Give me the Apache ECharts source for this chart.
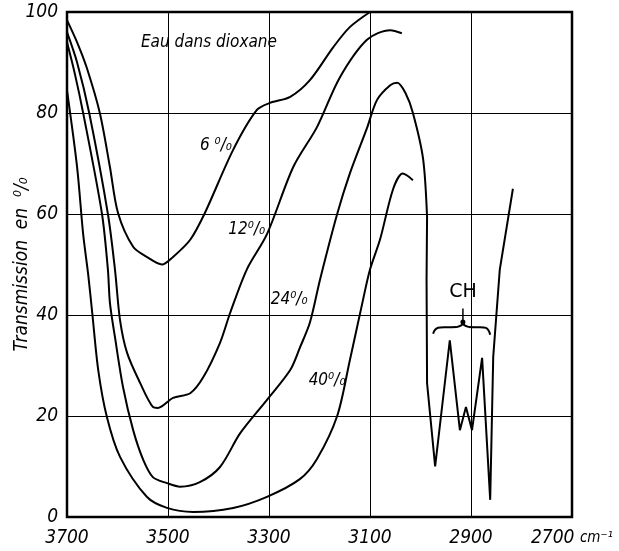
<!DOCTYPE html>
<html>
<head>
<meta charset="utf-8">
<script src="https://cdn.jsdelivr.net/npm/echarts@6/dist/echarts.min.js"></script>
<style>
  html, body { margin: 0; background: #fff; }
  #chart { width: 619px; height: 551px; }
</style>
</head>
<body>
<div id="chart"></div>
<script>
// valeurs : nombre d'onde (cm-1) / transmission (%)
var wn6 = [3700, 3680, 3661, 3635, 3615, 3599, 3569, 3542, 3512, 3490, 3456, 3427, 3371, 3324, 3298, 3258, 3219, 3173, 3140, 3100];
var tr6 = [98.4, 94, 89, 80, 69.3, 60.2, 53.5, 51.5, 50, 51.5, 54.9, 60.2, 72.7, 80.6, 82, 83.2, 86.5, 93, 97, 100];

var wn12 = [3700, 3680, 3656, 3619, 3605, 3595, 3581, 3555, 3530, 3520, 3490, 3456, 3430, 3397, 3377, 3344, 3304, 3252, 3205, 3160, 3106, 3060, 3037];
var tr12 = [96, 90, 80, 60, 49, 39, 32.5, 26.5, 21.8, 21.6, 23.6, 24.5, 27.7, 34.5, 40.4, 49, 56, 69.3, 77.2, 87, 94.5, 96.4, 95.8];

var wn24 = [3700, 3685, 3668, 3631, 3619, 3615, 3605, 3589, 3569, 3549, 3530, 3502, 3476, 3437, 3397, 3357, 3304, 3258, 3239, 3219, 3199, 3165, 3140, 3106, 3086, 3060, 3046, 3030, 3015, 2995, 2987];
var tr24 = [94, 88, 80, 60.2, 49, 42.4, 35.6, 25.7, 17.2, 11.3, 7.9, 6.7, 6, 6.9, 9.9, 16.6, 23.2, 29.1, 33.5, 38.5, 47, 60, 68, 77, 82.6, 85.5, 86, 84, 80, 71, 59.4];

// bandes CH (trace anguleux)
var wnCH = [2987, 2988, 2987, 2971, 2942, 2922, 2910, 2898, 2878, 2862, 2856, 2843, 2817];
var trCH = [59.4, 47, 26.5, 10, 35, 17.2, 21.8, 17.2, 31.5, 3.4, 31.7, 49, 65];

var wn40 = [3700, 3680, 3668, 3658, 3650, 3638, 3621, 3595, 3542, 3502, 3450, 3371, 3304, 3239, 3205, 3165, 3140, 3116, 3100, 3080, 3054, 3035, 3015];
var tr40 = [84.5, 69.3, 56, 48, 40.4, 29, 19.8, 11.9, 4, 1.8, 1, 1.8, 4, 7.5, 11.5, 20, 31, 42, 49, 55, 65, 68, 66.7];

var xTicks = [3700, 3500, 3300, 3100, 2900, 2700];
var yTicks = [0, 20, 40, 60, 80, 100];

// étiquettes des courbes (position en coordonnées du graphe)
var curveLabels = [
  { text: '6 ⁰/₀', at: [3405, 73.5] },
  { text: '12⁰/₀', at: [3344, 57] },
  { text: '24⁰/₀', at: [3260, 43] },
  { text: '40⁰/₀', at: [3185, 27] }
];

var X0 = 2700;
var font = "'Liberation Sans Narrow', 'DejaVu Sans Condensed', 'Liberation Sans', sans-serif";

var toData = function (wn, tr) {
  return wn.map(function (w, i) { return [w - X0, tr[i]]; });
};

var lineSeries = function (name, wn, tr, smooth) {
  return {
    name: name,
    type: 'line',
    data: toData(wn, tr),
    smooth: smooth,
    symbol: 'none',
    lineStyle: { color: '#000', width: 2 },
    clip: true,
    silent: true
  };
};

var chart = echarts.init(document.getElementById('chart'));

chart.setOption({
  animation: false,
  backgroundColor: '#fff',
  grid: {
    left: 67, right: 47, top: 12, bottom: 34,
    outerBoundsMode: 'none',
    show: true, borderColor: '#000', borderWidth: 2.5
  },
  xAxis: {
    type: 'value',
    inverse: true,
    min: 0,
    max: 1000,
    interval: 200,
    axisLine: { show: false },
    axisTick: { show: false },
    splitLine: { show: true, lineStyle: { color: '#000', width: 1 } },
    axisLabel: {
      margin: 12,
      color: '#000',
      fontSize: 19,
      fontStyle: 'italic',
      fontFamily: font,
      alignMinLabel: 'center',
      alignMaxLabel: 'center',
      hideOverlap: false,
      formatter: function (v) {
        var w = v + X0;
        if (xTicks.indexOf(w) < 0) return '';
        return w === 2700 ? '2700 {u|cm⁻¹}' : String(w);
      },
      rich: {
        u: { fontSize: 15, fontStyle: 'italic', fontFamily: font, color: '#000' }
      }
    }
  },
  yAxis: {
    type: 'value',
    min: 0,
    max: 100,
    interval: 20,
    name: 'Transmission  en  ⁰/₀',
    nameLocation: 'middle',
    nameGap: 35,
    nameMoveOverlap: false,
    nameTextStyle: { color: '#000', fontSize: 19, fontStyle: 'italic', fontFamily: font },
    axisLine: { show: false },
    axisTick: { show: false },
    splitLine: { show: true, lineStyle: { color: '#000', width: 1 } },
    axisLabel: {
      margin: 9,
      color: '#000',
      fontSize: 19,
      fontStyle: 'italic',
      fontFamily: font,
      formatter: function (v) { return yTicks.indexOf(v) >= 0 ? String(v) : ''; }
    }
  },
  series: [
    lineSeries('6%', wn6, tr6, 0.3),
    lineSeries('12%', wn12, tr12, 0.3),
    lineSeries('24%', wn24, tr24, 0.3),
    lineSeries('CH', wnCH, trCH, false),
    lineSeries('40%', wn40, tr40, 0.3)
  ]
});

// annotations placées à partir des coordonnées du graphe
var px = function (w, t) { return chart.convertToPixel({ gridIndex: 0 }, [w - X0, t]); };

var graphics = [];
curveLabels.forEach(function (lab) {
  var p = px(lab.at[0], lab.at[1]);
  graphics.push({
    type: 'text', x: p[0], y: p[1],
    style: { text: lab.text, fill: '#000', font: 'italic 17px ' + font, align: 'center', verticalAlign: 'middle' }
  });
});

var pt = px(3419, 94);
graphics.push({
  type: 'text', x: pt[0], y: pt[1],
  style: { text: 'Eau dans dioxane', fill: '#000', font: 'italic 17px ' + font, align: 'center', verticalAlign: 'middle' }
});

var pc = px(2916, 44.6);
graphics.push({
  type: 'text', x: pc[0], y: pc[1],
  style: { text: 'CH', fill: '#000', font: '19px "DejaVu Sans", sans-serif', align: 'center', verticalAlign: 'middle' }
});

// flèche vers l'accolade
var a0 = px(2916, 41.3), a1 = px(2916, 38.6);
graphics.push({ type: 'line', shape: { x1: a0[0], y1: a0[1], x2: a1[0], y2: a1[1] }, style: { stroke: '#000', lineWidth: 1.5 } });
graphics.push({ type: 'circle', shape: { cx: a1[0], cy: a1[1], r: 2.5 }, style: { fill: '#000' } });

// accolade horizontale (4 courbes de Bézier)
var bl = px(2975, 36.3), bm = px(2916, 37.8), br = px(2862, 36.1);
var by = bm[1] + 4;
var seg = function (x1, y1, c1x, c1y, c2x, c2y, x2, y2) {
  return {
    type: 'bezierCurve',
    shape: { x1: x1, y1: y1, cpx1: c1x, cpy1: c1y, cpx2: c2x, cpy2: c2y, x2: x2, y2: y2 },
    style: { stroke: '#000', lineWidth: 2, fill: null }
  };
};
graphics.push(seg(bl[0], bl[1], bl[0] + 3, by - 6, bm[0] - 20, by - 2, bm[0] - 6, by - 3));
graphics.push(seg(bm[0] - 6, by - 3, bm[0] - 2, by - 4, bm[0], by - 5, bm[0], by - 7));
graphics.push(seg(bm[0], by - 7, bm[0], by - 5, bm[0] + 2, by - 4, bm[0] + 6, by - 3));
graphics.push(seg(bm[0] + 6, by - 3, bm[0] + 20, by - 2, br[0] - 3, by - 6, br[0], br[1]));

chart.setOption({ graphic: graphics });
</script>
</body>
</html>
